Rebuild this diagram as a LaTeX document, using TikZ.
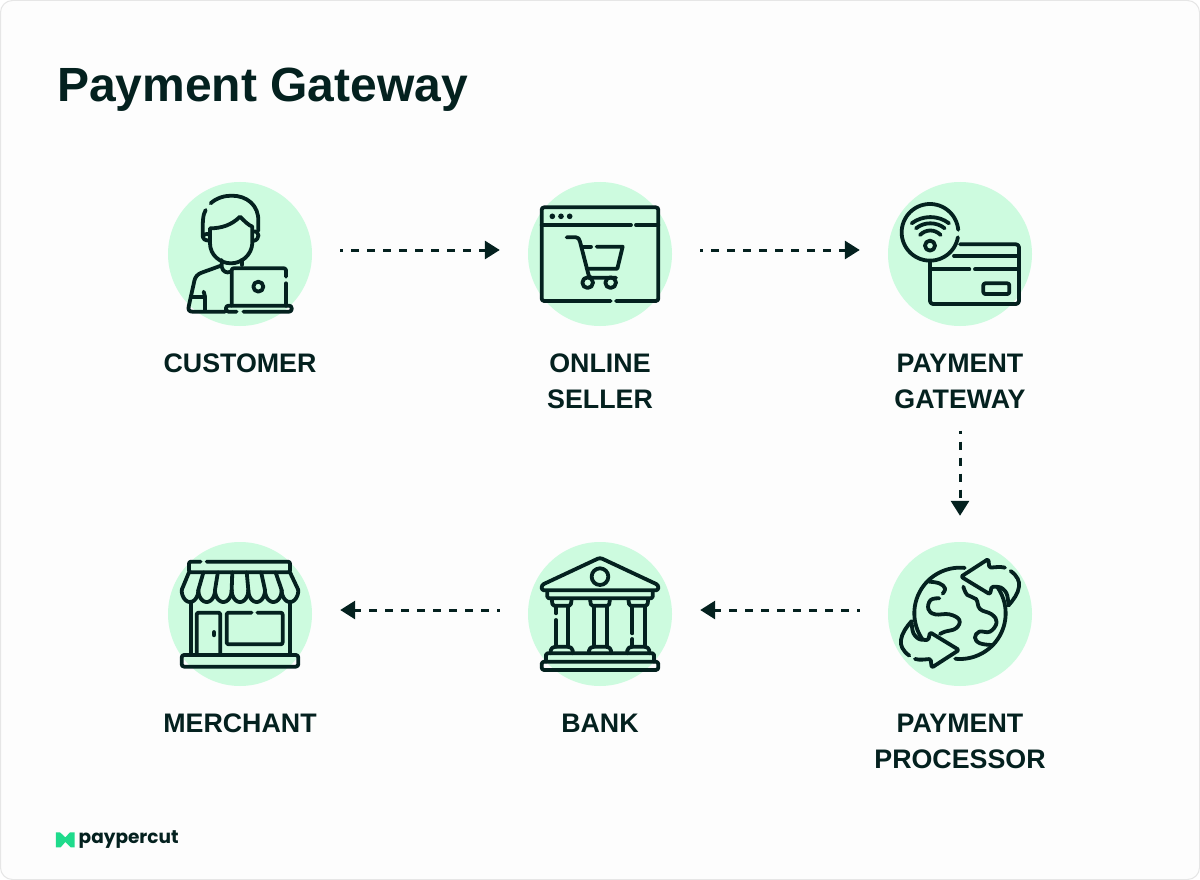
\documentclass[tikz,border=0pt]{standalone}
\usepackage{fontspec}
\setmainfont{Liberation Sans}
\newfontfamily\logofont{Poppins}
\usetikzlibrary{arrows.meta}
\definecolor{ink}{HTML}{04211F}
\definecolor{mint}{HTML}{CDFBDF}
\definecolor{logogreen}{HTML}{1FDB8C}
\definecolor{paper}{HTML}{FDFDFD}
\definecolor{edge}{HTML}{E6E6E6}
\tikzset{
  disc/.style={circle,fill=mint,minimum size=144pt,inner sep=0pt},
  lab/.style={text=ink,align=center,inner sep=0pt,font=\fontsize{26.8}{36}\selectfont\bfseries},
  zoomed/.style={x=.3333pt,y=-.3333pt},
  iconline/.style={draw=ink,line width=3.8pt,line cap=round,line join=round},
  flow/.style={draw=ink,line width=3pt,dash pattern=on 8pt off 8pt,dash phase=5pt,
    -{Triangle[length=15pt,width=18pt]}},
}
\newcommand{\globearrow}{%
  \draw[iconline,rounded corners=1.5pt] (375,98) .. controls (360,94) and (345,97) .. (328,98) -- (325,72) -- (243,125) -- (330,178) -- (335,155) .. controls (350,155) and (362,155) .. (372,165) .. controls (382,175) and (384,190) .. (385,205);
  \draw[iconline] (392,108) .. controls (412,122) and (420,140) .. (417,155) .. controls (415,175) and (400,195) .. (385,212);
  \draw[iconline] plot[domain=84:215,samples=40,variable=\a] ({240+137*cos(\a)},{235-137*sin(\a)});
}
\begin{document}
\begin{tikzpicture}[x=1pt,y=-1pt]
\useasboundingbox (0,0) rectangle (1200,880);
\fill[white] (0,0) rectangle (1200,880);
\draw[edge,fill=paper,line width=1pt,rounded corners=12pt] (.5,.5) rectangle (1199.5,879.5);

\node[anchor=west,inner sep=0pt,text=ink,font=\fontsize{48}{50}\selectfont\bfseries] (title) at (57,90) {Payment Gateway};

\node[disc] (c1) at (240,254) {};
\node[disc] (c2) at (600,254) {};
\node[disc] (c3) at (960,254) {};
\node[disc] (c4) at (960,614) {};
\node[disc] (c5) at (600,614) {};
\node[disc] (c6) at (240,614) {};

\node[lab] (l1) at (240,363) {CUSTOMER};
\node[lab] (l2) at (600,381) {ONLINE\\SELLER};
\node[lab] (l3) at (960,381) {PAYMENT\\GATEWAY};
\node[lab] (l4) at (960,741) {PAYMENT\\PROCESSOR};
\node[lab] (l5) at (600,723) {BANK};
\node[lab] (l6) at (240,723) {MERCHANT};

\draw[flow,shorten <=28pt,shorten >=28pt] ([yshift=4pt]c1.east) -- ([yshift=4pt]c2.west);
\draw[flow,shorten <=28pt,shorten >=28pt] ([yshift=4pt]c2.east) -- ([yshift=4pt]c3.west);
\draw[flow,shorten <=22pt,shorten >=26pt] (l3.south) -- (c4.north);
\draw[flow,shorten <=28pt,shorten >=28pt] ([yshift=4pt]c4.west) -- ([yshift=4pt]c5.east);
\draw[flow,shorten <=28pt,shorten >=28pt] ([yshift=4pt]c5.west) -- ([yshift=4pt]c6.east);

% customer
\begin{scope}[shift={(160,175)},zoomed]
  \draw[iconline] (152,85) .. controls (170,68) and (195,62) .. (215,62) .. controls (260,62) and (297,90) .. (295,140) -- (295,168);
  \draw[iconline] (137,105) .. controls (128,120) and (128,140) .. (128,185);
  \draw[iconline] (150,160) .. controls (185,160) and (215,150) .. (240,125) .. controls (255,140) and (265,150) .. (277,155) -- (277,205) .. controls (275,240) and (245,265) .. (213,265) .. controls (180,265) and (150,240) .. (150,205) -- cycle;
  \draw[iconline] (148,178) .. controls (124,172) and (118,197) .. (150,197);
  \draw[iconline] (279,170) .. controls (300,165) and (302,195) .. (279,198);
  \draw[iconline] (185,255) -- (185,275) .. controls (188,290) and (200,296) .. (212,290);
  \draw[iconline] (245,255) -- (245,270);
  \draw[iconline] (183,272) -- (125,293) .. controls (112,298) and (106,305) .. (103,318) -- (86,395) .. controls (84,405) and (88,410) .. (97,410) -- (195,410);
  \draw[iconline] (93,365) -- (135,365) -- (135,405);
  \draw[iconline] (135,365) -- (131,350);
  \draw[iconline,rounded corners=2pt] (215,392) -- (215,280) -- (378,280) -- (378,305);
  \draw[iconline] (378,325) -- (378,392);
  \draw[iconline] (295,335) circle[radius=15];
  \draw[iconline,rounded corners=2.5pt] (230,410) -- (198,410) -- (198,392) -- (395,392) -- (395,410) -- (250,410);
\end{scope}

% online seller
\begin{scope}[shift={(520,175)},zoomed]
  \draw[iconline,rounded corners=2.5pt] (272,378) -- (65,378) -- (65,97) -- (415,97) -- (415,378) -- (288,378);
  \draw[iconline] (65,150) -- (333,150);
  \draw[iconline] (348,150) -- (415,150);
  \fill[ink] (97,124) circle[radius=8.5] (123,124) circle[radius=8.5] (149,124) circle[radius=8.5];
  \draw[iconline] (140,187) -- (168,187) .. controls (175,187) and (178,192) .. (180,200) -- (205,297) .. controls (205,305) and (210,308) .. (215,308) -- (288,308);
  \draw[iconline] (190,215) -- (213,215);
  \draw[iconline] (230,215) -- (308,215) -- (292,281) -- (200,281);
  \draw[iconline] (203,323) circle[radius=16];
  \draw[iconline] (272,323) circle[radius=16];
\end{scope}

% payment gateway
\begin{scope}[shift={(880,175)},zoomed]
  \draw[iconline] plot[domain=5:350,samples=70,variable=\a] ({150+85*cos(\a)},{172-85*sin(\a)});
  \draw[iconline] (150,212) circle[radius=15];
  \draw[iconline] (120,180) .. controls (138,162) and (164,162) .. (182,180);
  \draw[iconline] (108,160) .. controls (132,140) and (170,140) .. (194,160);
  \draw[iconline] (95,145) .. controls (128,120) and (175,120) .. (207,145);
  \draw[iconline,rounded corners=3pt] (240,208) -- (417,208) -- (417,387) -- (150,387) -- (150,262);
  \draw[iconline] (222,243) -- (417,243);
  \draw[iconline] (155,283) -- (268,283);
  \draw[iconline] (285,283) -- (417,283);
  \draw[iconline,rounded corners=2pt] (310,325) rectangle (388,357);
\end{scope}

% payment processor
\begin{scope}[shift={(880,535)},zoomed]
  \globearrow
  \begin{scope}[shift={(480,470)},x=-.3333pt,y=.3333pt]
    \globearrow
  \end{scope}
  \draw[iconline] plot[smooth,tension=.7] coordinates {(147,140) (178,145) (195,160) (188,176)};
  \draw[iconline] plot[smooth,tension=.7] coordinates {(178,190) (152,195) (145,222) (165,238) (208,238) (238,255) (228,280) (195,290) (180,297)};
  \draw[iconline] plot[smooth,tension=.7] coordinates {(250,155) (262,180) (288,192) (300,222) (335,238) (350,262) (330,290) (298,290) (285,308) (300,325) (335,330)};
\end{scope}

% bank
\begin{scope}[shift={(520,535)},zoomed]
  \draw[iconline,rounded corners=2.5pt] (240,68) -- (415,150) -- (415,166) -- (65,166) -- (65,150) -- cycle;
  \draw[iconline] (240,125) circle[radius=25];
  \draw[iconline,rounded corners=1.5pt] (82,168) -- (82,190) -- (398,190) -- (398,168);
  \foreach \cx in {125,240,355}{
    \draw[iconline,rounded corners=1.5pt] ({\cx-30},192) -- ({\cx-27},212) -- ({\cx+27},212) -- ({\cx+30},192);
    \draw[iconline,rounded corners=1.5pt] ({\cx-33},355) -- ({\cx-33},342) -- ({\cx-22},335) -- ({\cx+22},335) -- ({\cx+33},342) -- ({\cx+33},355);
  }
  \draw[iconline] (108,215) -- (108,235);
  \draw[iconline] (108,255) -- (108,335);
  \draw[iconline] (145,215) -- (145,335);
  \draw[iconline] (221,215) -- (221,335);
  \draw[iconline] (260,215) -- (260,335);
  \draw[iconline] (337,215) -- (337,295);
  \draw[iconline] (337,312) -- (337,335);
  \draw[iconline] (375,215) -- (375,335);
  \draw[iconline,rounded corners=1.5pt] (78,380) -- (78,355) -- (402,355) -- (402,380);
  \draw[iconline,rounded corners=2.5pt] (65,380) rectangle (415,405);
\end{scope}

% merchant
\begin{scope}[shift={(160,535)},zoomed]
  \draw[iconline,rounded corners=2pt] (140,80) -- (390,80) -- (390,112) -- (87,112) -- (87,80) -- (122,80);
  \draw[iconline] (87,112) -- (65,165) (390,112) -- (415,165);
  \foreach \i in {1,...,6}{
    \draw[iconline] ({87+\i*43.3},112) -- ({65+\i*50},165);
  }
  \foreach \i in {0,...,6}{
    \draw[iconline] plot[domain=180:360,samples=20,variable=\a] ({90+\i*50+25*cos(\a)},{165-36*sin(\a)});
  }
  \draw[iconline] (93,200) -- (93,360);
  \draw[iconline] (390,200) -- (390,360);
  \draw[iconline,rounded corners=1.5pt] (110,360) -- (110,233) -- (181,233) -- (181,360);
  \draw[line width=4.5pt,draw=ink,line cap=round] (162,292) -- (162,300);
  \draw[iconline,rounded corners=2pt] (275,233) -- (200,233) -- (200,328) -- (368,328) -- (368,233) -- (292,233);
  \draw[iconline,rounded corners=2.5pt] (65,360) rectangle (415,395);
\end{scope}

% logo
\begin{scope}[shift={(40,820)},zoomed]
  \fill[logogreen] (48,37) -- (60,37) -- (76,52) -- (90,37) -- (104,37) -- (104,82) -- (92,82) -- (76,66) -- (62,82) -- (48,82) -- cycle;
\end{scope}
\node[anchor=west,inner sep=0pt,text=ink,font=\logofont\fontsize{18.5}{20}\selectfont\bfseries] (logo) at (78.5,839.5) {paypercut};
\end{tikzpicture}
\end{document}
